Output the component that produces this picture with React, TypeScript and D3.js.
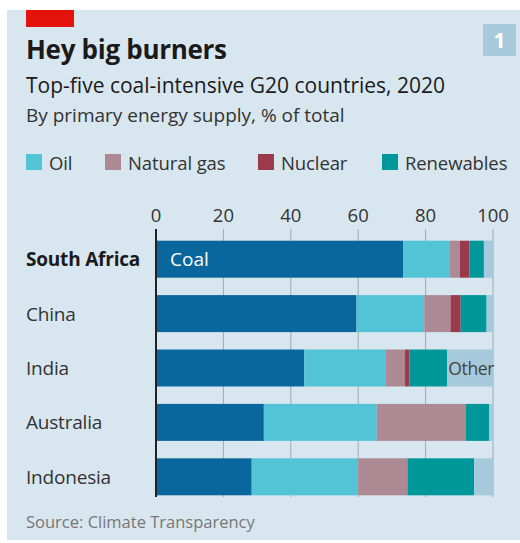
import React, { useEffect, useRef } from 'react'
import * as d3 from 'd3'

const countries = ['South Africa', 'China', 'India', 'Australia', 'Indonesia']
const coal = [73.4, 59.5, 44.0, 32.0, 28.4]
const oil = [13.8, 20.1, 24.2, 33.5, 31.6]
const naturalGas = [3.0, 7.8, 5.7, 26.5, 14.6]
const nuclear = [2.8, 3.0, 1.3, 0, 0]
const renewables = [4.3, 7.7, 11.2, 6.9, 19.8]
const other = [2.7, 1.9, 13.6, 1.1, 5.6]
const ticks = [0, 20, 40, 60, 80, 100]

const seriesKeys = ['Coal', 'Oil', 'Natural gas', 'Nuclear', 'Renewables', 'Other']
const seriesColors: Record<string, string> = {
  'Coal': '#0a679d',
  'Oil': '#52c4d6',
  'Natural gas': '#ad8a93',
  'Nuclear': '#9b3a4c',
  'Renewables': '#00979b',
  'Other': '#a6cadc'
}
const legendKeys = ['Oil', 'Natural gas', 'Nuclear', 'Renewables']

const FONT = '"Open Sans", Lato, sans-serif'

export default function App() {
  const svgRef = useRef<SVGSVGElement>(null)

  useEffect(() => {
    document.body.style.margin = '0'
    const svg = d3.select(svgRef.current)
    svg.selectAll('*').remove()

    const width = 520
    const height = 543

    // Panel background
    svg.append('rect')
      .attr('x', 7).attr('y', 10)
      .attr('width', width - 7).attr('height', 530)
      .attr('fill', '#d8e6ef')

    // Red tag
    svg.append('rect')
      .attr('x', 26).attr('y', 10)
      .attr('width', 48).attr('height', 17)
      .attr('fill', '#e3120b')

    // Chart number box
    svg.append('rect')
      .attr('x', 483).attr('y', 24)
      .attr('width', 33).attr('height', 32)
      .attr('fill', '#a8c9dc')
    svg.append('text')
      .attr('x', 499.5).attr('y', 48)
      .attr('text-anchor', 'middle')
      .style('font-family', FONT)
      .style('font-size', '21px')
      .style('font-weight', '700')
      .style('fill', '#fff')
      .text('1')

    // Titles
    svg.append('text')
      .attr('x', 26).attr('y', 59)
      .style('font-family', FONT)
      .style('font-size', '26px')
      .style('font-weight', '700')
      .style('letter-spacing', '-0.3px')
      .style('fill', '#1a1a1a')
      .text('Hey big burners')

    svg.append('text')
      .attr('x', 26).attr('y', 93)
      .style('font-family', FONT)
      .style('font-size', '21px')
      .style('fill', '#1a1a1a')
      .text('Top-five coal-intensive G20 countries, 2020')

    svg.append('text')
      .attr('x', 26).attr('y', 122)
      .style('font-family', FONT)
      .style('font-size', '19px')
      .style('fill', '#333')
      .text('By primary energy supply, % of total')

    // Legend
    const legendX = [26, 105, 258, 382]
    legendKeys.forEach((k, i) => {
      svg.append('rect')
        .attr('x', legendX[i]).attr('y', 154)
        .attr('width', 16).attr('height', 16)
        .attr('fill', seriesColors[k])
      svg.append('text')
        .attr('x', legendX[i] + 23).attr('y', 170)
        .style('font-family', FONT)
        .style('font-size', '18.5px')
        .style('letter-spacing', '-0.1px')
        .style('fill', '#333')
        .text(k)
    })

    // Scales
    const x = d3.scaleLinear().domain([0, 100]).range([156, 493])
    const y = d3.scaleBand().domain(countries).range([232, 504]).paddingInner(0.32).paddingOuter(0.16)

    // Gridlines and tick labels
    const grid = svg.append('g')
    ticks.forEach(t => {
      if (t !== 0) {
        grid.append('line')
          .attr('x1', x(t)).attr('x2', x(t))
          .attr('y1', 229).attr('y2', 497)
          .attr('stroke', '#9dabb4')
          .attr('stroke-width', 1)
      }
      grid.append('text')
        .attr('x', x(t)).attr('y', 222)
        .attr('text-anchor', 'middle')
        .style('font-family', FONT)
        .style('font-size', '18.5px')
        .style('fill', '#333')
        .text(t)
    })

    // Stacked bars
    const rows = countries.map((c, i) => ({
      country: c,
      'Coal': coal[i],
      'Oil': oil[i],
      'Natural gas': naturalGas[i],
      'Nuclear': nuclear[i],
      'Renewables': renewables[i],
      'Other': other[i]
    }))
    const stacked = d3.stack<any>().keys(seriesKeys)(rows)

    stacked.forEach(layer => {
      svg.append('g')
        .selectAll('rect')
        .data(layer)
        .join('rect')
        .attr('x', d => x(d[0]))
        .attr('y', d => y(d.data.country)!)
        .attr('width', d => Math.max(0, x(d[1]) - x(d[0])))
        .attr('height', y.bandwidth())
        .attr('fill', seriesColors[layer.key])
    })

    // Zero axis line
    svg.append('line')
      .attr('x1', x(0)).attr('x2', x(0))
      .attr('y1', 229).attr('y2', 497)
      .attr('stroke', '#222')
      .attr('stroke-width', 2)

    // Country labels
    countries.forEach((c, i) => {
      svg.append('text')
        .attr('x', 26)
        .attr('y', y(c)! + y.bandwidth() / 2 + 7)
        .style('font-family', FONT)
        .style('font-size', '19px')
        .style('letter-spacing', '-0.2px')
        .style('font-weight', i === 0 ? '700' : '400')
        .style('fill', i === 0 ? '#1a1a1a' : '#333')
        .text(c)
    })

    // In-bar labels
    svg.append('text')
      .attr('x', x(0) + 14)
      .attr('y', y('South Africa')! + y.bandwidth() / 2 + 7)
      .style('font-family', FONT)
      .style('font-size', '19px')
      .style('fill', '#fff')
      .text('Coal')

    const indiaOtherStart = coal[2] + oil[2] + naturalGas[2] + nuclear[2] + renewables[2]
    svg.append('text')
      .attr('x', x(indiaOtherStart) + 1)
      .attr('y', y('India')! + y.bandwidth() / 2 + 7)
      .style('font-family', FONT)
      .style('font-size', '17.5px')
      .style('letter-spacing', '-0.3px')
      .style('fill', '#444')
      .text('Other')

    // Source
    svg.append('text')
      .attr('x', 26).attr('y', 528)
      .style('font-family', FONT)
      .style('font-size', '16.5px')
      .style('fill', '#777')
      .text('Source: Climate Transparency')

    svg.attr('width', width).attr('height', height)
  }, [])

  return <svg ref={svgRef} width={520} height={543} style={{ display: 'block' }} />
}
